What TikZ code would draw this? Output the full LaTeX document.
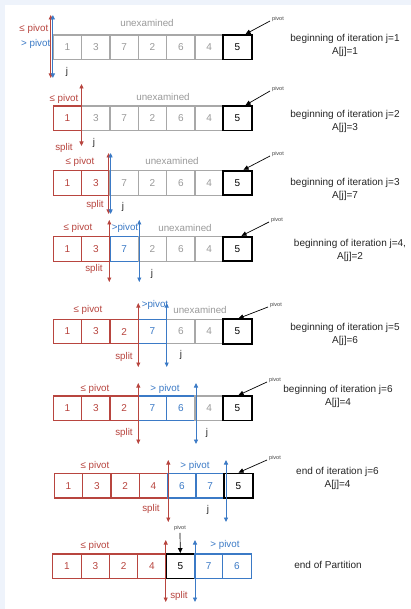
\documentclass[tikz,border=0pt]{standalone}
\usepackage{fontspec}
\setmainfont{Liberation Sans}
\usetikzlibrary{arrows.meta}
\definecolor{rd}{HTML}{B8453F}
\definecolor{bl}{HTML}{3B7AC6}
\definecolor{gy}{HTML}{A8A8A8}
\definecolor{gt}{HTML}{9A9A9A}
\definecolor{bgc}{HTML}{EEF3FB}
\newcommand\arow[4]{%
  \foreach \v/\s [count=\i] in {#4} {
    \node[\s] (#1c\i) at ({#3+67.5+(\i-1)*28.33}, #2+12.25) {\v};
  }%
}
\begin{document}
\begin{tikzpicture}[x=1pt,y=-1pt,
  cell/.style={draw, line width=1.2pt, minimum width=28.33pt, minimum height=24.5pt, inner sep=0pt, font=\fontsize{10}{10}\selectfont},
  gcell/.style={cell, draw=gy, text=gt},
  rcell/.style={cell, draw=rd, text=rd},
  bcell/.style={cell, draw=bl, text=bl},
  pcell/.style={cell, draw=black, line width=1.8pt, text=black},
  lab/.style={font=\fontsize{9.8}{10}\selectfont, inner sep=0pt},
  rl/.style={lab, text=rd},
  bll/.style={lab, text=bl},
  ul/.style={lab, text=gt},
  jl/.style={lab, text=black!85},
  ptr/.style={line width=0.9pt, {Triangle[length=4.5pt,width=4pt]}-{Triangle[length=4.5pt,width=4pt]}},
  rptr/.style={ptr, draw=rd, fill=rd},
  bptr/.style={ptr, draw=bl, fill=bl},
  piv/.style={font=\fontsize{5.5}{6}\selectfont, inner sep=0pt, text=black!75},
  pivarr/.style={-{Triangle[length=5pt,width=4.5pt]}, line width=0.7pt, draw=black},
  desc/.style={font=\fontsize{10}{13}\selectfont, align=center, inner sep=0pt, text=black!85}
]
\fill[bgc] (0,0) rectangle (411,609);
\fill[white] (5,5) rectangle (411,609);
\useasboundingbox (0,0) rectangle (411,609);

% ---------- Row 1
\arow{a}{35}{0}{1/gcell,3/gcell,7/gcell,2/gcell,6/gcell,4/gcell,5/pcell}
\coordinate (art) at (50.7,15); \coordinate (arb) at (50.7,78);
\coordinate (abt) at (52.9,15); \coordinate (abb) at (52.9,78);
\draw[rptr] (art) -- (arb);
\draw[bptr] (abt) -- (abb);
\node[rl, anchor=east] (ale) at (48.5,29) {≤ pivot};
\node[bll, anchor=east] (alg) at (50.5,44) {> pivot};
\node[jl] (aj) at (67,72) {j};
\node[ul] (au) at (147,23) {unexamined};
\node[piv, anchor=west] (ap) at (272,19) {pivot};
\coordinate (apt) at ([xshift=-7pt]ac7.north east);
\draw[pivarr] ([xshift=-2pt,yshift=-2pt]ap.west) -- (apt);
\node[desc] (ad) at (345,45.5) {beginning of iteration j=1\\A[j]=1};

% ---------- Row 2
\arow{b}{106}{0}{1/rcell,3/gcell,7/gcell,2/gcell,6/gcell,4/gcell,5/pcell}
\coordinate (brt) at (81.5,84); \coordinate (brb) at (81.5,146);
\draw[rptr] (brt) -- (brb);
\node[rl] (ble) at (64,99) {≤ pivot};
\node[rl] (bs) at (64,148) {split};
\node[jl] (bj) at (94,143) {j};
\node[ul] (bu) at (163,97) {unexamined};
\node[piv, anchor=west] (bp) at (272,89) {pivot};
\coordinate (bpt) at ([xshift=-7pt]bc7.north east);
\draw[pivarr] ([xshift=-2pt,yshift=-2pt]bp.west) -- (bpt);
\node[desc] (bd) at (345,121.5) {beginning of iteration j=2\\A[j]=3};

% ---------- Row 3
\arow{c}{170.7}{0}{1/rcell,3/rcell,7/gcell,2/gcell,6/gcell,4/gcell,5/pcell}
\coordinate (crt) at (108.6,153); \coordinate (crb) at (108.6,214);
\coordinate (cbt) at (110.6,153); \coordinate (cbb) at (110.6,214);
\draw[rptr] (crt) -- (crb);
\draw[bptr] (cbt) -- (cbb);
\node[rl] (cle) at (80,162) {≤ pivot};
\node[rl] (cs) at (95,205) {split};
\node[jl] (cj) at (123,207) {j};
\node[ul] (cu) at (172,161) {unexamined};
\node[piv, anchor=west] (cp) at (272,154) {pivot};
\coordinate (cpt) at ([xshift=-9pt]cc7.north east);
\draw[pivarr] ([xshift=-2pt,yshift=-2pt]cp.west) -- (cpt);
\node[desc] (cd) at (345,189) {beginning of iteration j=3\\A[j]=7};

% ---------- Row 4
\arow{d}{236.7}{0}{1/rcell,3/rcell,7/bcell,2/gcell,6/gcell,4/gcell,5/pcell}
\coordinate (drt) at (109.3,220); \coordinate (drb) at (109.3,282);
\coordinate (dbt) at (139.3,220); \coordinate (dbb) at (139.3,282);
\draw[rptr] (drt) -- (drb);
\draw[bptr] (dbt) -- (dbb);
\node[rl] (dle) at (78,228) {≤ pivot};
\node[bll] (dlg) at (125,228) {>pivot};
\node[ul] (du) at (185,228) {unexamined};
\node[rl] (ds) at (94,269) {split};
\node[jl] (dj) at (152,274) {j};
\node[piv, anchor=west] (dp) at (271,220) {pivot};
\coordinate (dpt) at ([xshift=-11pt]dc7.north east);
\draw[pivarr] ([xshift=-2pt,yshift=-2pt]dp.west) -- (dpt);
\node[desc] (dd) at (350,250.5) {beginning of iteration j=4,\\A[j]=2};

% ---------- Row 5
\arow{e}{319.3}{0}{1/rcell,3/rcell,2/rcell,7/bcell,6/gcell,4/gcell,5/pcell}
\coordinate (ert) at (138.3,303); \coordinate (erb) at (138.3,367);
\coordinate (ebt) at (166.7,303); \coordinate (ebb) at (166.7,367);
\draw[rptr] (ert) -- (erb);
\draw[bptr] (ebt) -- (ebb);
\node[rl] (ele) at (88,310) {≤ pivot};
\node[bll] (elg) at (155,305) {>pivot};
\node[ul] (eu) at (200,310) {unexamined};
\node[rl] (es) at (124,357) {split};
\node[jl] (ej) at (181,355) {j};
\node[piv, anchor=west] (ep) at (270,305) {pivot};
\coordinate (ept) at ([xshift=-14pt]ec7.north east);
\draw[pivarr] ([xshift=-2pt,yshift=-2pt]ep.west) -- (ept);
\node[desc] (ed) at (345,334) {beginning of iteration j=5\\A[j]=6};

% ---------- Row 6
\arow{f}{396}{0}{1/rcell,3/rcell,2/rcell,7/bcell,6/bcell,4/gcell,5/pcell}
\coordinate (frt) at (138.3,383); \coordinate (frb) at (138.3,444);
\coordinate (fbt) at (196,383); \coordinate (fbb) at (196,444);
\draw[rptr] (frt) -- (frb);
\draw[bptr] (fbt) -- (fbb);
\node[rl] (fle) at (95,389) {≤ pivot};
\node[bll] (flg) at (165,389) {> pivot};
\node[rl] (fs) at (124,433) {split};
\node[jl] (fj) at (207,433) {j};
\node[piv, anchor=west] (fp) at (269,380) {pivot};
\coordinate (fpt) at ([xshift=-14pt]fc7.north east);
\draw[pivarr] ([xshift=-2pt,yshift=-2pt]fp.west) -- (fpt);
\node[desc] (fd) at (338,396) {beginning of iteration j=6\\A[j]=4};

% ---------- Row 7
\arow{g}{473.5}{1}{1/rcell,3/rcell,2/rcell,4/rcell,6/bcell,7/bcell,5/pcell}
\coordinate (grt) at (168.3,460); \coordinate (grb) at (168.3,522);
\coordinate (gbt) at (226,460); \coordinate (gbb) at (226,522);
\draw[rptr] (grt) -- (grb);
\draw[bptr] (gbt) -- (gbb);
\node[rl] (gle) at (95,466) {≤ pivot};
\node[bll] (glg) at (195,466) {> pivot};
\node[rl] (gs) at (151,509) {split};
\node[jl] (gj) at (208,510) {j};
\node[piv, anchor=west] (gp) at (269,458) {pivot};
\coordinate (gpt) at ([xshift=-15pt]gc7.north east);
\draw[pivarr] ([xshift=-2pt,yshift=-2pt]gp.west) -- (gpt);
\node[desc] (gd) at (337.5,478.5) {end of iteration j=6\\A[j]=4};

% ---------- Row 8
\arow{h}{554}{-0.5}{1/rcell,3/rcell,2/rcell,4/rcell,5/pcell,7/bcell,6/bcell}
\coordinate (hrt) at (165.7,540); \coordinate (hrb) at (165.7,602);
\coordinate (hbt) at (195,540); \coordinate (hbb) at (195,602);
\draw[rptr] (hrt) -- (hrb);
\draw[bptr] (hbt) -- (hbb);
\node[rl] (hle) at (95,546) {≤ pivot};
\node[bll] (hlg) at (225,545) {> pivot};
\node[rl] (hs) at (179,596) {split};
\node[piv] (hp) at (180,528) {pivot};
\draw[pivarr] ([yshift=-2pt]hp.south) -- (hc5.north);
\node[desc] (hd) at (328,565) {end of Partition};
\end{tikzpicture}
\end{document}
